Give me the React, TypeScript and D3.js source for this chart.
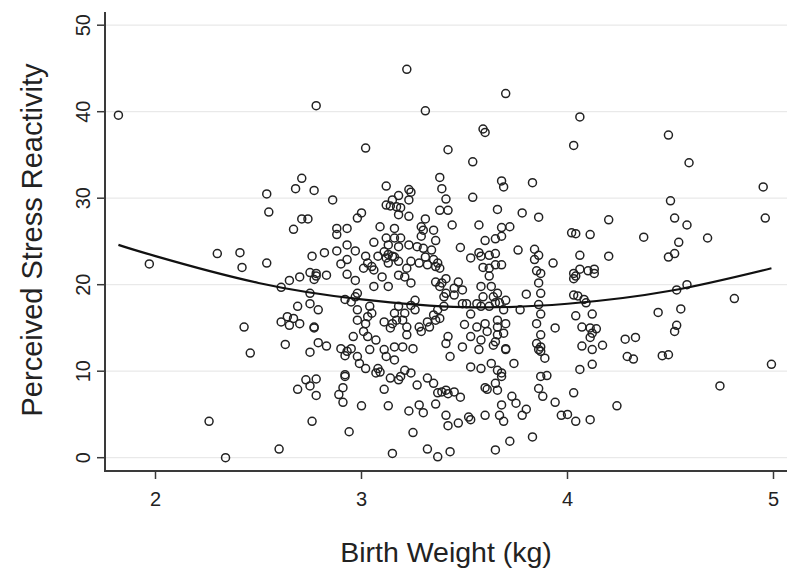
import React from "react";
import * as d3 from "d3";

// x: birth weight (kg), y: perceived stress reactivity
const observations: [number, number][] = [
  [1.82,39.6],[2.78,40.7],[2.54,30.5],[2.71,32.3],[2.68,31.1],[2.77,30.9],[2.86,29.8],[2.55,28.4],[2.71,27.6],[2.74,27.6],[2.67,26.4],[2.88,26.5],[2.93,26.5],[2.88,25.8],
  [1.97,22.4],[2.30,23.6],[2.41,23.7],[2.42,22.0],[2.54,22.5],[2.76,23.3],[2.82,23.7],[2.88,23.9],[2.93,24.6],[2.90,22.4],[2.93,22.9],[2.75,21.4],[2.78,21.3],[2.77,20.6],[2.83,21.1],[2.65,20.5],[2.70,20.9],[2.61,19.7],[2.75,19.0],[2.92,18.3],[2.75,17.8],[2.79,17.1],[2.69,17.5],[2.43,15.1],[2.61,15.7],[2.64,16.3],[2.67,16.1],[2.65,15.3],[2.70,15.5],[2.77,15.1],[2.77,15.0],[2.63,13.1],[2.46,12.1],[2.75,12.2],[2.79,13.3],[2.83,12.9],[2.90,12.6],[2.92,11.8],[2.73,9.0],[2.78,9.1],[2.75,8.3],[2.69,7.9],[2.78,7.2],[2.92,9.6],[2.92,9.4],[2.91,8.1],[2.89,7.3],[2.91,6.4],[2.26,4.2],[2.76,4.2],[2.60,1.0],[2.34,0.0],[2.94,3.0],[2.78,21.0],
  [3.22,44.9],[3.70,42.1],[3.31,40.1],[3.59,38.0],[3.60,37.6],[4.06,39.4],[4.03,36.1],[3.02,35.8],[3.42,35.6],[3.54,34.2],[3.12,31.4],[3.38,32.4],[3.39,31.1],[3.41,29.9],[3.54,30.1],[3.68,32.0],[3.69,31.3],[3.83,31.8],[3.23,31.0],[3.24,30.7],[3.18,30.3],[3.23,29.8],[3.15,29.8],[3.12,29.2],[3.14,29.1],[3.17,29.0],[3.19,28.9],[3.18,28.1],[3.23,27.9],[3.38,28.6],[3.42,28.6],[3.66,28.7],[3.78,28.3],[3.86,27.8],[3.00,28.3],[2.98,27.7],[3.09,26.7],[3.16,26.5],[3.31,27.6],[3.29,26.7],[3.30,26.3],[3.35,26.3],[3.44,26.9],[3.57,26.9],[3.68,26.6],[3.72,26.7],[4.02,26.0],[4.04,25.9],
  [4.49,37.3],[4.59,34.1],[4.95,31.3],[4.50,29.7],[4.96,27.7],[4.20,27.5],[4.52,27.7],[4.58,26.9],[4.11,25.8],[4.37,25.5],[4.54,24.9],[4.68,25.4],
  [4.06,23.4],[4.20,23.3],[4.49,23.2],[4.52,23.6],[4.03,21.3],[4.04,21.0],[4.06,21.8],[4.10,21.6],[4.13,21.8],[4.13,21.3],[4.03,18.8],[4.05,18.7],[4.08,18.3],[4.09,17.9],[4.53,19.4],[4.58,20.0],[4.81,18.4],[4.04,16.4],[4.12,16.6],[4.44,16.8],[4.55,17.2],[4.07,15.1],[4.11,15.0],[4.14,14.9],[4.12,14.4],[4.11,13.9],[4.53,15.3],[4.52,14.6],[4.28,13.7],[4.33,13.9],[4.07,12.9],[4.12,12.5],[4.17,13.0],[4.29,11.7],[4.32,11.4],[4.46,11.8],[4.49,11.9],[4.12,10.8],[4.06,10.2],[4.99,10.8],[4.74,8.3],[4.03,7.5],[4.24,6.0],[3.97,4.9],[4.00,5.0],[4.04,4.2],[4.11,4.4],[4.03,20.7],
  [3.36,25.1],[3.29,25.6],[2.97,23.9],[3.06,24.9],[3.12,25.4],[3.13,24.6],[3.16,25.4],[3.19,25.4],[3.18,24.4],[3.23,24.6],[3.27,24.4],
  [3.11,23.8],[3.13,23.5],[3.15,23.3],[3.12,23.1],[3.16,23.2],[3.18,22.7],[3.13,22.5],
  [3.08,23.3],[3.02,23.3],[3.03,22.5],[3.01,21.9],[3.05,22.1],[3.06,21.7],
  [2.97,20.5],[2.93,21.2],[3.10,20.9],[3.06,19.8],[3.13,19.8],
  [3.18,21.1],[3.21,20.9],[3.24,20.2],[3.22,21.9],[3.24,22.7],[3.28,22.5],[3.31,23.2],[3.32,22.3],[3.35,22.9],[3.36,22.1],[3.37,22.5],[3.38,21.9],[3.34,24.0],[3.30,24.2],
  [3.36,20.3],[3.39,20.2],[3.41,20.7],
  [2.98,19.0],[2.97,18.6],[2.95,18.0],[3.04,17.5],[3.05,16.7],[2.98,17.1],[2.98,15.9],[3.02,15.5],[3.01,14.6],[3.03,16.3],
  [3.11,15.7],[3.15,15.5],[3.14,15.0],[3.17,15.9],[3.20,15.9],[3.22,15.1],[3.16,16.7],[3.18,17.5],
  [3.26,18.2],[3.24,17.6],[3.26,17.1],[3.21,16.7],
  [3.28,15.1],[3.29,14.6],[3.33,15.1],[3.32,15.7],[3.35,16.5],[3.37,17.1],[3.40,17.5],[3.36,15.9],
  [3.22,14.2],[3.20,12.8],[3.25,12.6],[3.16,12.8],[3.11,12.5],[3.12,11.7],[3.16,11.3],[3.08,10.3],[3.07,13.6],[3.03,14.0],
  [2.96,14.0],[2.95,12.6],[2.93,12.3],[2.98,11.7],[2.99,10.9],[3.04,12.5],[3.02,10.3],
  [3.07,9.8],[3.09,9.9],[3.14,9.2],[3.18,9.0],[3.19,9.4],[3.21,10.1],[3.24,9.8],[3.11,7.9],[3.27,8.4],[3.32,9.2],[3.35,8.6],[3.37,7.5],[3.41,7.8],
  [3.00,6.0],[3.13,6.0],[3.23,5.4],[3.28,6.1],[3.30,5.2],[3.36,6.2],[3.25,2.9],[3.15,0.5],[3.32,1.0],[3.37,0.1],
  [3.68,25.6],[3.65,25.3],[3.60,25.1],[3.48,24.3],[3.76,24.0],
  [3.84,24.1],[3.86,23.4],[3.84,22.9],[3.85,21.6],[3.87,21.3],[3.86,20.2],[3.87,19.0],
  [3.53,23.1],[3.57,23.7],[3.58,23.3],[3.62,23.4],[3.65,23.6],[3.59,22.0],[3.62,21.9],[3.65,22.3],[3.68,22.3],[3.62,21.0],
  [3.38,19.8],[3.41,19.0],[3.45,19.6],[3.47,20.3],[3.49,19.4],[3.45,18.8],[3.40,18.6],
  [3.58,19.8],[3.63,19.8],[3.59,18.6],[3.64,18.6],[3.66,19.0],[3.70,18.2],[3.80,18.9],
  [3.49,17.8],[3.51,17.8],[3.56,17.8],[3.58,17.5],[3.62,17.5],[3.65,17.9],[3.67,17.9],[3.69,17.1],[3.77,17.1],
  [3.38,16.1],[3.53,16.6],[3.50,15.4],[3.56,15.1],[3.60,15.5],[3.61,14.6],[3.66,15.9],[3.66,15.1],[3.70,15.5],[3.66,14.2],[3.69,14.4],[3.65,13.4],[3.64,13.0],[3.70,12.6],[3.70,12.5],
  [3.42,14.0],[3.41,13.2],[3.49,12.8],[3.43,11.7],[3.53,14.0],[3.58,13.6],[3.57,12.5],[3.53,10.5],[3.58,10.3],
  [3.63,10.9],[3.66,10.1],[3.68,9.8],[3.68,9.4],[3.60,8.1],[3.61,7.9],[3.65,8.6],[3.66,7.8],[3.74,10.9],
  [3.39,7.6],[3.42,7.4],[3.45,7.6],[3.48,7.0],
  [3.41,4.9],[3.42,3.7],[3.47,4.0],[3.52,4.7],[3.53,4.4],[3.60,4.9],[3.67,4.9],[3.69,4.2],[3.68,6.1],[3.73,7.1],[3.75,6.3],[3.78,4.9],[3.80,5.6],[3.83,2.4],[3.72,1.9],[3.65,0.9],[3.43,0.7],
  [3.93,22.5],[3.86,17.7],[3.87,16.6],[3.85,15.5],[3.87,14.2],[3.85,13.2],[3.86,12.5],[3.87,12.3],[3.89,11.5],[3.87,12.8],[3.94,15.0],[3.87,9.4],[3.90,9.5],[3.86,8.0],[3.88,7.1],[3.94,6.4],
];

// fitted quadratic curve
const fitCurve: [number, number][] = [
  [1.82, 24.6], [2.0, 23.3], [2.5, 20.2], [3.0, 18.3], [3.5, 17.4], [4.0, 17.8], [4.5, 19.3], [4.99, 21.9],
];

const xTicks = [2, 3, 4, 5];
const yTicks = [0, 10, 20, 30, 40, 50];

const FONT = "'Liberation Sans', Arial, Helvetica, sans-serif";

export default function App() {
  const width = 800;
  const height = 573;
  const axisLeft = 105;
  const axisBottom = 471;
  const plotRight = 787;
  const axisTop = 12;

  const x = d3.scaleLinear().domain([2, 5]).range([155.5, 773.5]);
  const y = d3.scaleLinear().domain([0, 50]).range([457.7, 25.2]);

  const line = d3
    .line<[number, number]>()
    .x((d) => x(d[0]))
    .y((d) => y(d[1]))
    .curve(d3.curveNatural);

  const axisColor = "#3a3a3a";

  return (
    <svg
      width={width}
      height={height}
      style={{ position: "absolute", left: 0, top: 0, background: "#fff" }}
      fontFamily={FONT}
    >
      <rect x={0} y={0} width={width} height={height} fill="#fff" />
      {yTicks.map((t) => (
        <line
          key={"g" + t}
          x1={axisLeft + 1}
          x2={plotRight}
          y1={y(t)}
          y2={y(t)}
          stroke="#e9e9e9"
          strokeWidth={1.2}
        />
      ))}
      {observations.map((d, i) => (
        <circle
          key={i}
          cx={x(d[0])}
          cy={y(d[1])}
          r={4}
          fill="none"
          stroke="#222"
          strokeWidth={1.5}
        />
      ))}
      <path d={line(fitCurve) || ""} fill="none" stroke="#111" strokeWidth={2.2} />
      <line x1={axisLeft} x2={axisLeft} y1={axisTop} y2={axisBottom + 1} stroke={axisColor} strokeWidth={2} />
      <line x1={axisLeft - 1} x2={plotRight} y1={axisBottom} y2={axisBottom} stroke={axisColor} strokeWidth={2} />
      {yTicks.map((t) => (
        <g key={"yt" + t}>
          <line x1={axisLeft - 8} x2={axisLeft} y1={y(t)} y2={y(t)} stroke={axisColor} strokeWidth={1.5} />
          <text
            transform={`translate(${89.5},${y(t)}) rotate(-90)`}
            textAnchor="middle"
            fontSize={20}
            fill="#222"
          >
            {t}
          </text>
        </g>
      ))}
      {xTicks.map((t) => (
        <g key={"xt" + t}>
          <line x1={x(t)} x2={x(t)} y1={axisBottom} y2={axisBottom + 8} stroke={axisColor} strokeWidth={1.5} />
          <text x={x(t)} y={506} textAnchor="middle" fontSize={20} fill="#222">
            {t}
          </text>
        </g>
      ))}
      <text x={446} y={562} textAnchor="middle" fontSize={28.5} fill="#222">
        Birth Weight (kg)
      </text>
      <text
        transform={`translate(${42},${240}) rotate(-90)`}
        textAnchor="middle"
        fontSize={29}
        fill="#222"
      >
        Perceived Stress Reactivity
      </text>
    </svg>
  );
}
